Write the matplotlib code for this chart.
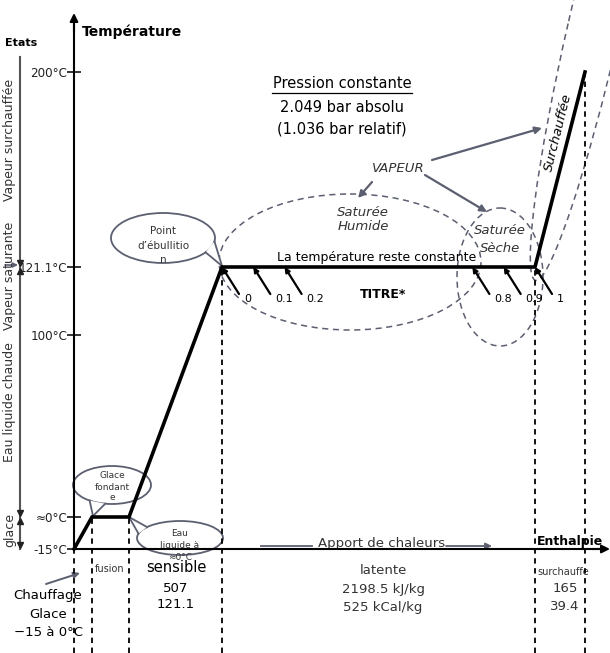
import numpy as np
import matplotlib.pyplot as plt
from matplotlib.patches import Ellipse, Polygon

# --- données ---
temp_ticks = [-15, 0, 100, 121.1, 200]
temp_labels = ['-15°C', '≈0°C', '100°C', '121.1°C', '200°C']
# enthalpie par étape (kJ/kg) : chauffage glace, fusion, sensible, latente, surchauffe
stage_dh = [31, 334, 507, 2198.5, 165]
path_T = [-15, 0, 0, 121.1, 121.1, 200]
path_H = np.concatenate([[0], np.cumsum(stage_dh)])
titres = [0, 0.1, 0.2, 0.8, 0.9, 1]
titre_labels = ['0', '0.1', '0.2', '0.8', '0.9', '1']

# position schématique des points (pixels) -> échelles non linéaires
x_px = [74, 92, 129, 222, 535, 585]
y_px = [104, 136, 318, 386, 581]   # depuis le bas

GREY = '#5b5f70'


def piecewise(xp, fp):
    xp = np.asarray(xp, float)
    fp = np.asarray(fp, float)
    s0 = (fp[1] - fp[0]) / (xp[1] - xp[0])
    s1 = (fp[-1] - fp[-2]) / (xp[-1] - xp[-2])

    def f(v):
        v = np.asarray(v, float)
        out = np.interp(v, xp, fp)
        out = np.where(v < xp[0], fp[0] + (v - xp[0]) * s0, out)
        out = np.where(v > xp[-1], fp[-1] + (v - xp[-1]) * s1, out)
        return out
    return f


fig = plt.figure(figsize=(6.1, 6.53), dpi=100)
ov = fig.add_axes([0, 0, 1, 1])
ov.set_xlim(0, 610)
ov.set_ylim(653, 0)
ov.axis('off')

ax = fig.add_axes([0, 0, 1, 1])
ax.set_zorder(1)
ax.patch.set_alpha(0)

fx, fxi = piecewise(path_H, x_px), piecewise(x_px, path_H)
fy, fyi = piecewise(temp_ticks, y_px), piecewise(y_px, temp_ticks)
ax.set_xscale('function', functions=(fx, fxi))
ax.set_yscale('function', functions=(fy, fyi))

# courbe de chauffe
ax.plot(path_H, path_T, color='k', lw=2.6, solid_joinstyle='miter')
ybot = float(fyi(0))
ax.vlines(path_H, ybot, path_T, colors='k', linestyles=(0, (3, 2.5)), lw=1.3)

# titres de vapeur
for t, lab in zip(titres, titre_labels):
    h = path_H[3] + t * stage_dh[3]
    ax.annotate('', xy=(h, path_T[3]), xytext=(17, -27), textcoords='offset pixels',
                arrowprops=dict(arrowstyle='-|>', color='k', lw=1.6, mutation_scale=7,
                                shrinkA=0, shrinkB=0))
    ax.annotate(lab, xy=(h, path_T[3]), xytext=(22, -32), textcoords='offset pixels',
                fontsize=8, ha='left', va='center')

# axes
for s in ['top', 'right']:
    ax.spines[s].set_visible(False)
ax.spines['left'].set_position(('data', 0))
ax.spines['bottom'].set_position(('data', -15))
ax.spines['left'].set_bounds(-15, float(fyi(653 - 25)))
ax.spines['bottom'].set_bounds(0, float(fxi(598)))
ax.spines['left'].set_linewidth(1.5)
ax.spines['bottom'].set_linewidth(1.5)
ax.set_xticks([])
ax.set_yticks(temp_ticks, temp_labels)
ax.set_yticks([], minor=True)
ax.tick_params(axis='y', direction='inout', length=10, width=1.1, pad=0, labelsize=9.5,
               labelcolor='#222222')
for lab in ax.get_yticklabels():
    lab.set_fontstretch('condensed')
ax.set_xlim(float(fxi(0)), float(fxi(610)))
ax.set_ylim(ybot, float(fyi(653)))

ov.annotate('', xy=(74, 13), xytext=(74, 32),
            arrowprops=dict(arrowstyle='-|>', color='k', lw=1.5, mutation_scale=12, shrinkA=0, shrinkB=0))
ov.annotate('', xy=(610, 549), xytext=(592, 549),
            arrowprops=dict(arrowstyle='-|>', color='k', lw=1.5, mutation_scale=12, shrinkA=0, shrinkB=0))
ov.text(82, 32, 'Température', fontsize=10, fontweight='bold', va='center')
ov.text(570, 542, 'Enthalpie', fontsize=9, fontweight='bold', ha='center', va='center')

# barre des états
ov.plot([20, 20], [57, 549], color='#555555', lw=1.5)
for yy, mk in [(263, 'v'), (271, '^'), (513, 'v'), (521, '^'), (545, 'v')]:
    ov.plot(20, yy, marker=mk, color='#222222', ms=5)
ov.annotate('', xy=(18, 265), xytext=(5, 265),
            arrowprops=dict(arrowstyle='-|>', color=GREY, lw=1.2, mutation_scale=7, shrinkA=0, shrinkB=0))
ov.text(5, 43, 'Etats', fontsize=8, fontweight='bold', va='center')
for txt, yy in [('Vapeur surchauffée', 140), ('Vapeur saturante', 276),
                ('Eau liquide chaude', 402), ('glace', 530)]:
    ov.text(10, yy, txt, fontsize=9, rotation=90, ha='center', va='center', color='#333333')

# textes du haut
ov.text(342, 84, 'Pression constante', fontsize=10.5, ha='center', va='center')
ov.plot([272, 412], [93, 93], color='k', lw=0.9)
ov.text(342, 107, '2.049 bar absolu', fontsize=10.5, ha='center', va='center')
ov.text(342, 129, '(1.036 bar relatif)', fontsize=10.5, ha='center', va='center')
ov.text(398, 169, 'VAPEUR', fontsize=9.5, style='italic', ha='center', va='center', color='#333333')
ov.text(363, 212, 'Saturée', fontsize=9.5, style='italic', ha='center', va='center', color='#333333')
ov.text(363, 227, 'Humide', fontsize=9.5, style='italic', ha='center', va='center', color='#333333')
ov.text(500, 230, 'Saturée', fontsize=9.5, style='italic', ha='center', va='center', color='#333333')
ov.text(500, 249, 'Sèche', fontsize=9.5, style='italic', ha='center', va='center', color='#333333')
ov.text(377, 258, 'La température reste constante', fontsize=9, ha='center', va='center')
ov.text(383, 295, 'TITRE*', fontsize=9, fontweight='bold', ha='center', va='center')
ov.text(558, 132, 'Surchauffée', fontsize=9.5, style='italic', rotation=76,
        ha='center', va='center')

for (x0, y0), (x1, y1) in [((432, 160), (542, 128)), ((425, 175), (487, 212)),
                           ((372, 182), (358, 198))]:
    ov.annotate('', xy=(x1, y1), xytext=(x0, y0),
                arrowprops=dict(arrowstyle='-|>', color=GREY, lw=1.6, mutation_scale=10,
                                shrinkA=0, shrinkB=0))

# zones en pointillés
for cx, cy, w, h, ang in [(350, 262, 262, 136, 0), (500, 277, 86, 138, 0),
                          (594, 27, 520, 52, -77)]:
    ov.add_patch(Ellipse((cx, cy), w, h, angle=ang, fill=False, ec=GREY, lw=1.1,
                         ls=(0, (4, 3))))


# bulles
def bubble(cx, cy, w, h, a1, a2, tip, lines, ys, fs):
    ov.add_patch(Ellipse((cx, cy), w, h, fc='white', ec=GREY, lw=1.3, zorder=3))
    pts = []
    for a in (a1, a2):
        r = np.radians(a)
        pts.append((cx + w / 2 * np.cos(r), cy - h / 2 * np.sin(r)))
    ov.add_patch(Polygon([pts[0], tip, pts[1]], closed=True, fc='white', ec='none', zorder=3.5))
    for p in pts:
        ov.plot([p[0], tip[0]], [p[1], tip[1]], color=GREY, lw=1.3, zorder=3.6)
    for ln, yy in zip(lines, ys):
        ov.text(cx, yy, ln, fontsize=fs, ha='center', va='center', color='#333333', zorder=4)


bubble(163, 238, 104, 50, -8, -35, (222, 266), ['Point', 'd\u2019ébullitio', 'n'], [231, 246, 260], 7.5)
bubble(112, 485, 78, 38, -100, -125, (93, 516), ['Glace', 'fondant', 'e'], [475, 487, 498], 6.5)
bubble(180, 538, 86, 34, 140, 165, (129, 517), ['Eau', 'liquide à', '≈0°C'], [533, 545, 557], 6.5)

# textes du bas
ov.text(382, 543, 'Apport de chaleurs', fontsize=9.5, ha='center', va='center', color='#333333')
ov.plot([261, 312], [546, 546], color=GREY, lw=1.3)
ov.annotate('', xy=(492, 546), xytext=(446, 546),
            arrowprops=dict(arrowstyle='-|>', color=GREY, lw=1.3, mutation_scale=9, shrinkA=0, shrinkB=0))

ov.text(110, 569, 'fusion', fontsize=7, ha='center', va='center', color='#333333')
for txt, yy, fs in [('sensible', 568, 10.5), ('507', 588, 9.5), ('121.1', 605, 9.5)]:
    ov.text(176, yy, txt, fontsize=fs, ha='center', va='center')
for txt, yy in [('latente', 570), ('2198.5 kJ/kg', 589), ('525 kCal/kg', 607)]:
    ov.text(383, yy, txt, fontsize=9.5, ha='center', va='center', color='#333333')
ov.text(563, 572, 'surchauffe', fontsize=7, ha='center', va='center', color='#333333')
for txt, yy in [('165', 589), ('39.4', 607)]:
    ov.text(565, yy, txt, fontsize=9.5, ha='center', va='center', color='#333333')
for txt, yy in [('Chauffage', 596), ('Glace', 614), ('\u221215 à 0°C', 632)]:
    ov.text(48, yy, txt, fontsize=9.5, ha='center', va='center')
ov.annotate('', xy=(80, 573), xytext=(46, 584),
            arrowprops=dict(arrowstyle='-|>', color=GREY, lw=1.4, mutation_scale=9, shrinkA=0, shrinkB=0))

fig.savefig('out.png', dpi=100)
